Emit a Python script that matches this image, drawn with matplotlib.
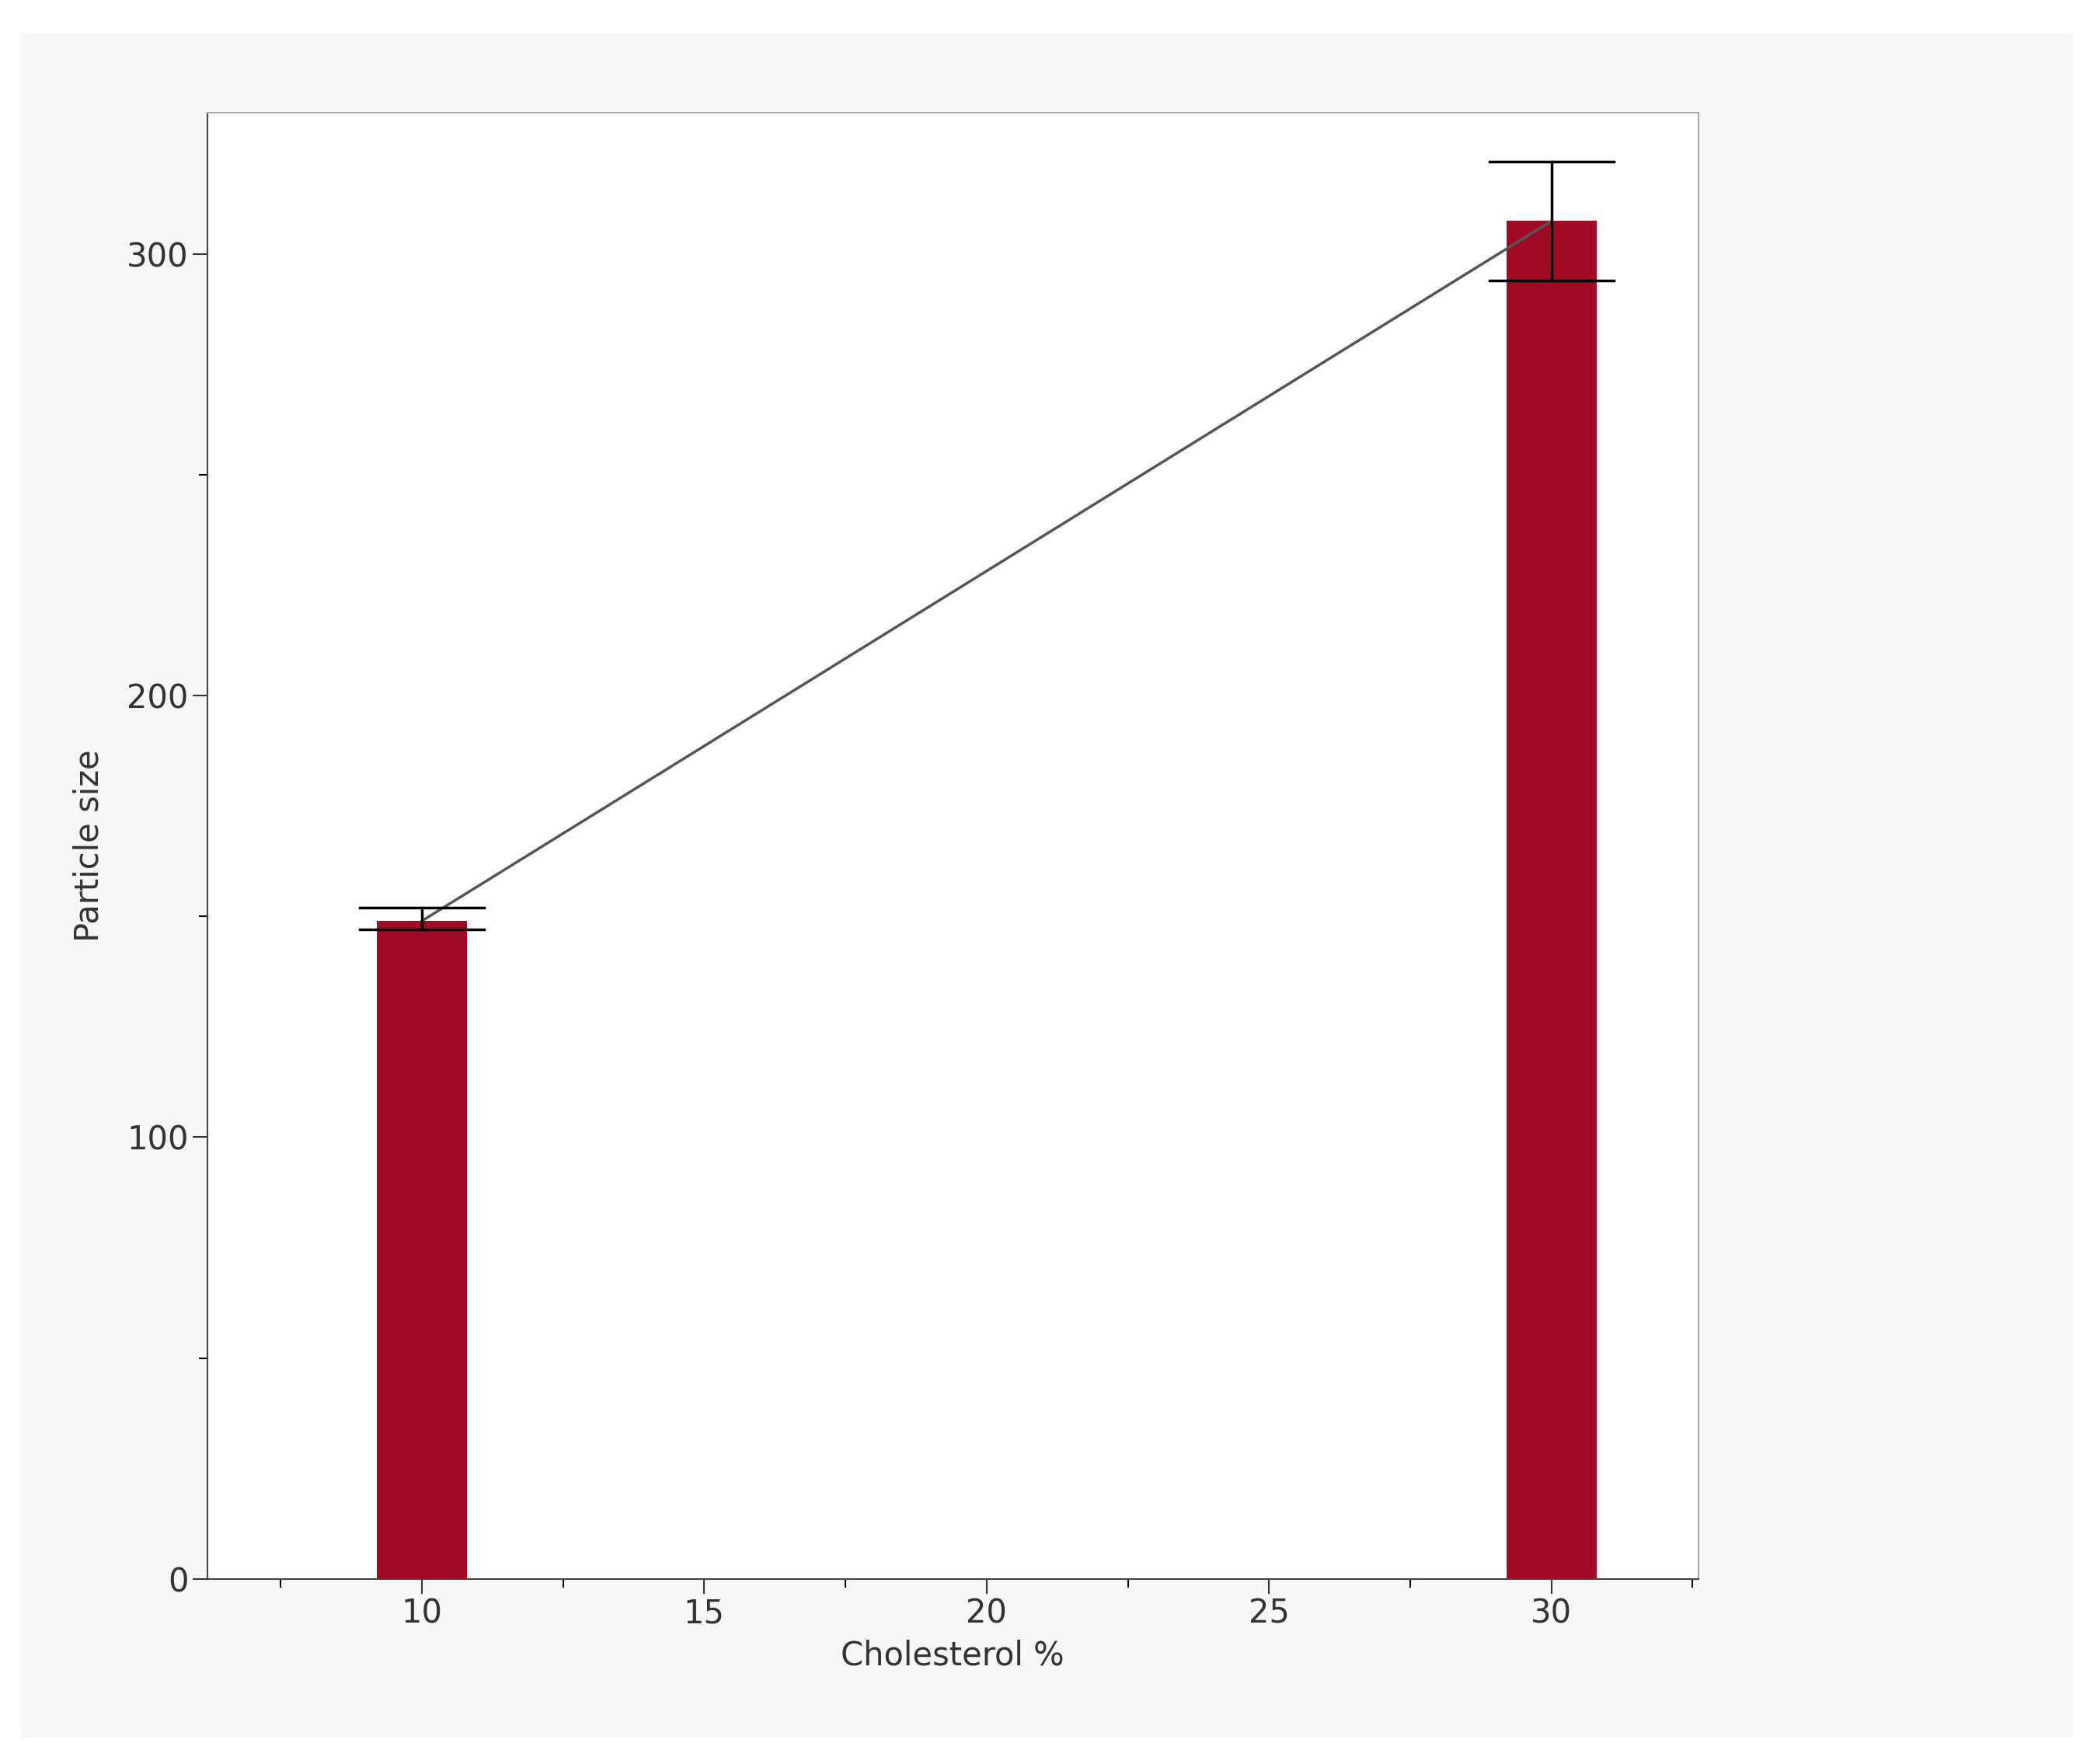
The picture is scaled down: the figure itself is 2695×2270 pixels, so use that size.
import matplotlib.pyplot as plt
from matplotlib.patches import Rectangle
from matplotlib.ticker import MultipleLocator

cholesterol = [10, 30]
particle_size = [149.0, 307.5]
err_low = [147.0, 294.0]
err_high = [152.0, 321.0]

fig = plt.figure(figsize=(26.95, 22.7), dpi=100)
fig.patch.set_facecolor("white")
fig.add_artist(Rectangle((0.01, 0.015), 0.98, 0.966, transform=fig.transFigure,
                         facecolor="#f7f7f7", edgecolor="none", zorder=0))

ax = fig.add_axes([0.099, 0.105, 0.712, 0.831])
ax.set_facecolor("white")
ax.bar(cholesterol, particle_size, width=1.6, color="#a00a22", zorder=2)
ax.plot(cholesterol, particle_size, color="#555555", lw=2.5, zorder=3)
for x, lo, hi in zip(cholesterol, err_low, err_high):
    ax.plot([x, x], [lo, hi], color="black", lw=2.5, zorder=4)
    for y in (lo, hi):
        ax.plot([x - 1.1, x + 1.1], [y, y], color="black", lw=2.5, zorder=4)

ax.set_xlim(6.2, 32.6)
ax.set_ylim(0, 332)
ax.xaxis.set_major_locator(MultipleLocator(5))
ax.xaxis.set_minor_locator(MultipleLocator(2.5))
ax.yaxis.set_major_locator(MultipleLocator(100))
ax.yaxis.set_minor_locator(MultipleLocator(50))
ax.tick_params(which="major", length=14, width=1.5, labelsize=30, colors="#333333")
ax.tick_params(which="minor", length=8, width=1.5)
for s in ax.spines.values():
    s.set_edgecolor("#aaaaaa")
    s.set_linewidth(1.5)
ax.spines["left"].set_edgecolor("#444444")
ax.spines["bottom"].set_edgecolor("#444444")
ax.set_xlabel("Cholesterol %", fontsize=30, color="#333333", labelpad=8)
ax.set_ylabel("Particle size", fontsize=30, color="#333333", labelpad=20)

fig.savefig("out.png", dpi=100, facecolor=fig.get_facecolor())
